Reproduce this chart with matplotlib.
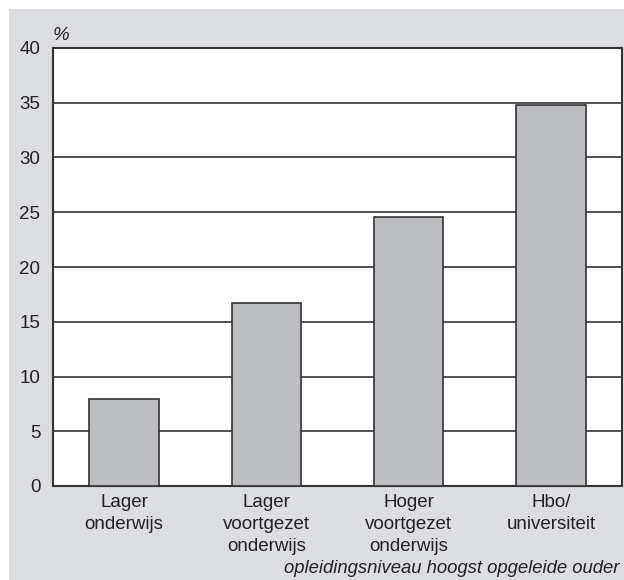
import matplotlib
matplotlib.use("Agg")
import matplotlib.pyplot as plt
from matplotlib.patches import Rectangle

categories = ["Lager\nonderwijs", "Lager\nvoortgezet\nonderwijs",
              "Hoger\nvoortgezet\nonderwijs", "Hbo/\nuniversiteit"]
values = [7.9, 16.7, 24.6, 34.8]
yticks = [0, 5, 10, 15, 20, 25, 30, 35, 40]

plt.rcParams['font.family'] = ['Liberation Sans', 'DejaVu Sans']

W, H = 624, 580
fig = plt.figure(figsize=(W / 100, H / 100), dpi=100)
fig.patch.set_facecolor('#dcdde0')
# white strips at left and top edge
fig.patches.append(Rectangle((0, 0), 9 / W, 1, transform=fig.transFigure,
                             facecolor='white', edgecolor='none', zorder=-10))
fig.patches.append(Rectangle((0, 1 - 9 / H), 1, 9 / H, transform=fig.transFigure,
                             facecolor='white', edgecolor='none', zorder=-10))

ax = fig.add_axes([53 / W, 1 - 486 / H, (622 - 53) / W, (486 - 48) / H])
ax.set_facecolor('white')
x = range(len(categories))
ax.bar(x, values, width=0.49, color='#bdbec2', edgecolor='#333333', linewidth=1.2, zorder=3)
ax.set_xlim(-0.5, 3.5)
ax.set_ylim(0, 40)
ax.set_yticks(yticks)
ax.yaxis.grid(True, color='#333333', linewidth=1.2, zorder=1)
ax.set_axisbelow(True)
ax.set_xticks(list(x))
ax.set_xticklabels(categories, fontsize=13.5, linespacing=1.36, color='#222222')
ax.tick_params(axis='y', length=0, pad=9, labelsize=13.5, labelcolor='#222222')
ax.tick_params(axis='x', length=0, pad=6)
for s in ax.spines.values():
    s.set_color('#333333')
    s.set_linewidth(1.5)

fig.text(53 / W, 1 - 35 / H, '%', fontsize=13.5, style='italic', color='#222222',
         ha='left', va='center')
fig.text(619 / W, 1 - 573 / H, 'opleidingsniveau hoogst opgeleide ouder', fontsize=13.3,
         style='italic', color='#222222', ha='right', va='baseline')

fig.savefig('out.png', dpi=100, facecolor=fig.get_facecolor())
